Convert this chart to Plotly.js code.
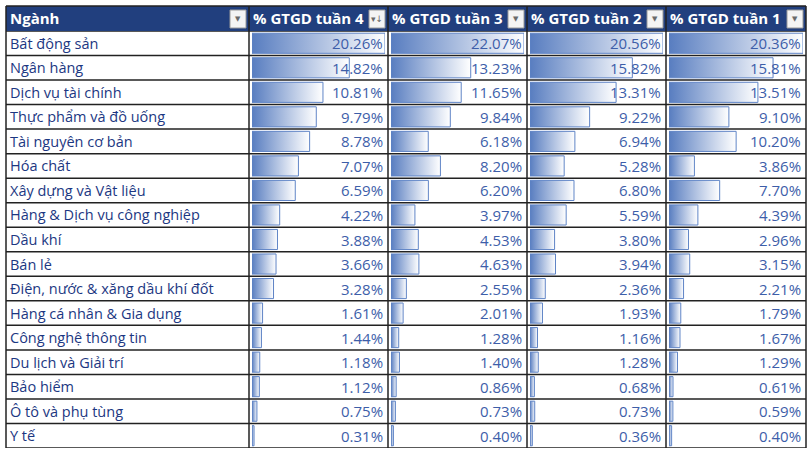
<!DOCTYPE html>
<html>
<head>
<meta charset="utf-8">
<script src="https://cdn.plot.ly/plotly-3.0.1.min.js"></script>
<style>
  body { margin: 0; background: #ffffff; }
  #chart { width: 809px; height: 455px; }
</style>
</head>
<body>
<div id="chart"></div>
<script>
var W = 809, H = 455;

var headers = ["Ngành", "% GTGD tuần 4", "% GTGD tuần 3", "% GTGD tuần 2", "% GTGD tuần 1"];
var categories = ["Bất động sản", "Ngân hàng", "Dịch vụ tài chính", "Thực phẩm và đồ uống",
  "Tài nguyên cơ bản", "Hóa chất", "Xây dựng và Vật liệu", "Hàng & Dịch vụ công nghiệp",
  "Dầu khí", "Bán lẻ", "Điện, nước & xăng dầu khí đốt", "Hàng cá nhân & Gia dụng",
  "Công nghệ thông tin", "Du lịch và Giải trí", "Bảo hiểm", "Ô tô và phụ tùng", "Y tế"];
var week4 = [20.26, 14.82, 10.81, 9.79, 8.78, 7.07, 6.59, 4.22, 3.88, 3.66, 3.28, 1.61, 1.44, 1.18, 1.12, 0.75, 0.31];
var week3 = [22.07, 13.23, 11.65, 9.84, 6.18, 8.20, 6.20, 3.97, 4.53, 4.63, 2.55, 2.01, 1.28, 1.40, 0.86, 0.73, 0.40];
var week2 = [20.56, 15.82, 13.31, 9.22, 6.94, 5.28, 6.80, 5.59, 3.80, 3.94, 2.36, 1.93, 1.16, 1.28, 0.68, 0.73, 0.36];
var week1 = [20.36, 15.81, 13.51, 9.10, 10.20, 3.86, 7.70, 4.39, 2.96, 3.15, 2.21, 1.79, 1.67, 1.29, 0.61, 0.59, 0.40];
var weeks = [week4, week3, week2, week1];

// table geometry in pixels
var colEdges = [6, 249, 388, 527, 666, 806];
var tblTop = 6, headBottom = 31, tblBottom = 448;

function px(x) { return x / W; }
function py(y) { return 1 - y / H; }

var font = "'Open Sans', Lato, sans-serif";
var navy = "#213f7e";
var catColor = "#1c3782";
var numColor = "#3d5ea9";
var barLine = "#5f84c6";
var gridColor = "#222222";
var h = 0.41;

var traces = [];
var annotations = [];
var shapes = [];

var layout = {
  width: W, height: H,
  margin: {l: 0, r: 0, t: 0, b: 0},
  paper_bgcolor: "#ffffff",
  plot_bgcolor: "rgba(0,0,0,0)",
  showlegend: false,
  yaxis: {
    domain: [py(tblBottom), py(headBottom)],
    range: [16.5, -0.5],
    visible: false, fixedrange: true
  }
};

// header band
shapes.push({type: "rect", xref: "paper", yref: "paper", layer: "below",
  x0: px(colEdges[0]), x1: px(colEdges[5]), y0: py(headBottom), y1: py(tblTop),
  fillcolor: navy, line: {width: 0}});

// bars, one trace per cell so the gradient follows each bar
weeks.forEach(function (vals, j) {
  var ax = j === 0 ? "" : String(j + 1);
  var L = colEdges[j + 1], R = colEdges[j + 2];
  var maxV = Math.max.apply(null, vals);
  layout["xaxis" + ax] = {
    domain: [px(L + 3), px(R - 3)],
    range: [0, maxV],
    anchor: "y", visible: false, fixedrange: true
  };
  vals.forEach(function (v, i) {
    traces.push({
      type: "scatter", mode: "lines",
      xaxis: "x" + ax, yaxis: "y",
      x: [0, v, v, 0, 0],
      y: [i - h, i - h, i + h, i + h, i - h],
      fill: "toself",
      fillgradient: {type: "horizontal", colorscale: [[0, "#587dc0"], [1, "#ffffff"]]},
      line: {color: barLine, width: 1},
      hoverinfo: "skip"
    });
    annotations.push({
      xref: "x" + ax + " domain", yref: "y", x: 1, y: i,
      xanchor: "right", yanchor: "middle", xshift: 0,
      text: v.toFixed(2) + "%", showarrow: false,
      font: {family: font, size: 15, color: numColor}
    });
  });
});

// category names
categories.forEach(function (c, i) {
  annotations.push({
    xref: "paper", yref: "y", x: px(colEdges[0] + 2), y: i,
    xanchor: "left", yanchor: "middle",
    text: c, showarrow: false,
    font: {family: font, size: 14.5, color: catColor}
  });
});

// header labels and filter buttons
headers.forEach(function (t, j) {
  var L = colEdges[j], R = colEdges[j + 1];
  annotations.push({
    xref: "paper", yref: "paper", x: px(L + 2), y: py((tblTop + headBottom) / 2),
    xanchor: "left", yanchor: "middle", text: "<b>" + t + "</b>", showarrow: false,
    font: {family: font, size: 15, color: "#ffffff"}
  });
  shapes.push({type: "rect", xref: "paper", yref: "paper",
    x0: px(R - 19), x1: px(R - 3), y0: py(28), y1: py(10),
    fillcolor: "#f4f4f4", line: {color: "#9a9a9a", width: 1}});
  annotations.push({
    xref: "paper", yref: "paper", x: px(R - 11), y: py(19),
    xanchor: "center", yanchor: "middle", text: j === 1 ? "▾↓" : "▼", showarrow: false,
    font: {family: "DejaVu Sans", size: j === 1 ? 9 : 7, color: "#6a6a6a"}
  });
});

// grid: vertical lines
colEdges.forEach(function (x) {
  shapes.push({type: "line", xref: "paper", yref: "paper",
    x0: px(x), x1: px(x), y0: py(tblBottom), y1: py(tblTop),
    line: {color: gridColor, width: 1.5}});
});
// grid: horizontal lines
shapes.push({type: "line", xref: "paper", yref: "paper",
  x0: px(colEdges[0]), x1: px(colEdges[5]), y0: py(tblTop), y1: py(tblTop),
  line: {color: gridColor, width: 1.5}});
for (var k = 0; k <= categories.length; k++) {
  shapes.push({type: "line", xref: "paper", yref: "y",
    x0: px(colEdges[0]), x1: px(colEdges[5]), y0: k - 0.5, y1: k - 0.5,
    line: {color: gridColor, width: 1.5}});
}

layout.annotations = annotations;
layout.shapes = shapes;

Plotly.newPlot("chart", traces, layout, {displayModeBar: false, staticPlot: true});
</script>
</body>
</html>
